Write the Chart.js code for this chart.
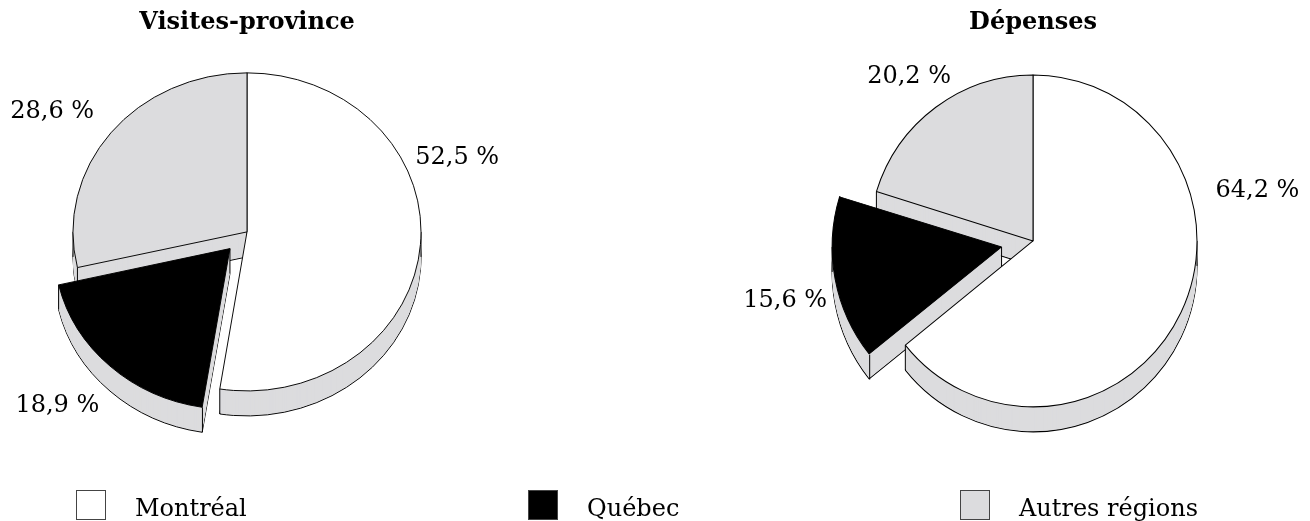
<!DOCTYPE html>
<html>
<head>
<meta charset="utf-8">
<script src="https://cdn.jsdelivr.net/npm/chart.js@4.4.1/dist/chart.umd.min.js"></script>
<style>
  body { margin: 0; background: #fff; }
  #wrap { position: relative; width: 1310px; height: 521px; }
  #wrap canvas { position: absolute; left: 0; top: 0; }
  .key { position: absolute; top: 490px; font: 24px "DejaVu Serif"; color: #000; }
  .key .box { position: absolute; left: 0; top: 0; width: 28px; height: 28px; border: 1px solid #444; }
  .key .txt { position: absolute; left: 59px; top: 3px; line-height: 30px; white-space: nowrap; }
</style>
</head>
<body>
<div id="wrap">
  <canvas id="visitesChart" width="1310" height="521"></canvas>
  <canvas id="depensesChart" width="1310" height="521"></canvas>
</div>
<script>
var regions = ['Montréal', 'Québec', 'Autres régions'];
var visites = [52.5, 18.9, 28.6];
var depenses = [64.2, 15.6, 20.2];
var colors = ['#ffffff', '#000000', '#dcdcde'];
var keyLeft = [76, 528, 960];

function mid(arc) {
    return (arc.startAngle + arc.endAngle) / 2;
}

// same shift the arc element uses for its "offset" option
function shift(arc) {
    var off = (arc.options.offset || 0) / 4;
    var m = mid(arc);
    return {
        x: Math.cos(m) * off,
        y: Math.sin(m) * off,
        r: off * (1 - Math.sin(Math.min(Math.PI, arc.circumference)))
    };
}

function tilt(ctx, arc, k) {
    ctx.translate(arc.x, arc.y);
    ctx.scale(1, k);
    ctx.translate(-arc.x, -arc.y);
}

function edges(ctx, arc, o) {
    var s = shift(arc);
    var R = arc.outerRadius + s.r;
    var angles = [arc.startAngle, arc.endAngle];
    [0, Math.PI].forEach(function (a) {
        if (a > arc.startAngle && a < arc.endAngle) angles.push(a);
    });
    var pts = angles.map(function (a) {
        return {x: arc.x + s.x + R * Math.cos(a), y: arc.y + (s.y + R * Math.sin(a)) * o.tilt};
    });
    if (s.x || s.y) pts.push({x: arc.x + s.x, y: arc.y + s.y * o.tilt});
    ctx.save();
    ctx.strokeStyle = '#000';
    ctx.lineWidth = 1;
    pts.forEach(function (p) {
        ctx.beginPath();
        ctx.moveTo(p.x, p.y);
        ctx.lineTo(p.x, p.y + o.depth);
        ctx.stroke();
    });
    ctx.restore();
}

// fake 3D: squash the pie and stack grey copies under it
var pie3d = {
    id: 'pie3d',
    beforeDatasetsDraw: function (chart, args, o) {
        var ctx = chart.ctx;
        var arcs = chart.getDatasetMeta(0).data.slice();
        arcs.sort(function (a, b) { return Math.sin(mid(a)) - Math.sin(mid(b)); });
        arcs.forEach(function (arc) {
            var base = arc.options;
            for (var d = o.depth; d >= 1; d--) {
                ctx.save();
                ctx.translate(0, d);
                tilt(ctx, arc, o.tilt);
                arc.options = Object.assign({}, base, {
                    backgroundColor: o.side,
                    borderWidth: d === o.depth ? 1 : 0
                });
                arc.draw(ctx);
                ctx.restore();
            }
            arc.options = base;
            edges(ctx, arc, o);
        });
        ctx.save();
        tilt(ctx, arcs[0], o.tilt);
    },
    afterDatasetsDraw: function (chart, args, o) {
        var ctx = chart.ctx;
        ctx.restore();
        var values = chart.data.datasets[0].data;
        ctx.save();
        ctx.font = '24px "DejaVu Serif"';
        ctx.fillStyle = '#000';
        ctx.textAlign = 'center';
        ctx.textBaseline = 'middle';
        chart.getDatasetMeta(0).data.forEach(function (arc, i) {
            var text = values[i].toFixed(1).replace('.', ',') + ' %';
            var s = shift(arc);
            var a = mid(arc) + o.turn[i] * Math.PI / 180;
            var dx = arc.outerRadius * Math.cos(a);
            var dy = arc.outerRadius * Math.sin(a) * o.tilt;
            var len = Math.hypot(dx, dy), ux = dx / len, uy = dy / len;
            var w = ctx.measureText(text).width;
            var reach = len + o.gap[i] + Math.abs(ux) * w / 2 + Math.abs(uy) * 9;
            ctx.fillText(text, arc.x + s.x + ux * reach, arc.y + s.y * o.tilt + uy * reach);
        });
        ctx.restore();
    }
};

function makePie(id, title, values, radius, explode, padding, look) {
    return new Chart(document.getElementById(id), {
        type: 'pie',
        data: {
            labels: regions,
            datasets: [{
                data: values,
                backgroundColor: colors,
                borderColor: '#000',
                borderWidth: 1,
                offset: explode,
                radius: radius,
                clip: false
            }]
        },
        options: {
            responsive: false,
            animation: false,
            events: [],
            layout: {padding: padding},
            plugins: {
                legend: {display: false},
                tooltip: {enabled: false},
                title: {
                    display: true,
                    text: title,
                    color: '#000',
                    font: {family: 'DejaVu Serif', size: 24, weight: 'bold'},
                    padding: {top: 8, bottom: 8}
                },
                pie3d: look
            }
        },
        plugins: [pie3d]
    });
}

// title block = 8 + 28.8 + 8 = 44.8 px, chart area centred on the pie
makePie('visitesChart', 'Visites-province', visites, 174, [0, 100, 0],
    {left: 0, right: 816, top: 0, bottom: 102},
    {depth: 25, tilt: 0.914, side: '#dcdcde', gap: [8, 30, 19], turn: [-25.5, 2, -4.5]});

makePie('depensesChart', 'Dépenses', depenses, 164, [0, 128, 0],
    {left: 756, right: 0, top: 0, bottom: 84},
    {depth: 25, tilt: 1.012, side: '#dcdcde', gap: [23, 16, 8], turn: [-38, -3, -1]});

// shared legend under both pies
var wrap = document.getElementById('wrap');
regions.forEach(function (name, i) {
    var item = document.createElement('div');
    item.className = 'key';
    item.style.left = keyLeft[i] + 'px';
    item.innerHTML = '<span class="box" style="background:' + colors[i] + '"></span><span class="txt">' + name + '</span>';
    wrap.appendChild(item);
});
</script>
</body>
</html>
